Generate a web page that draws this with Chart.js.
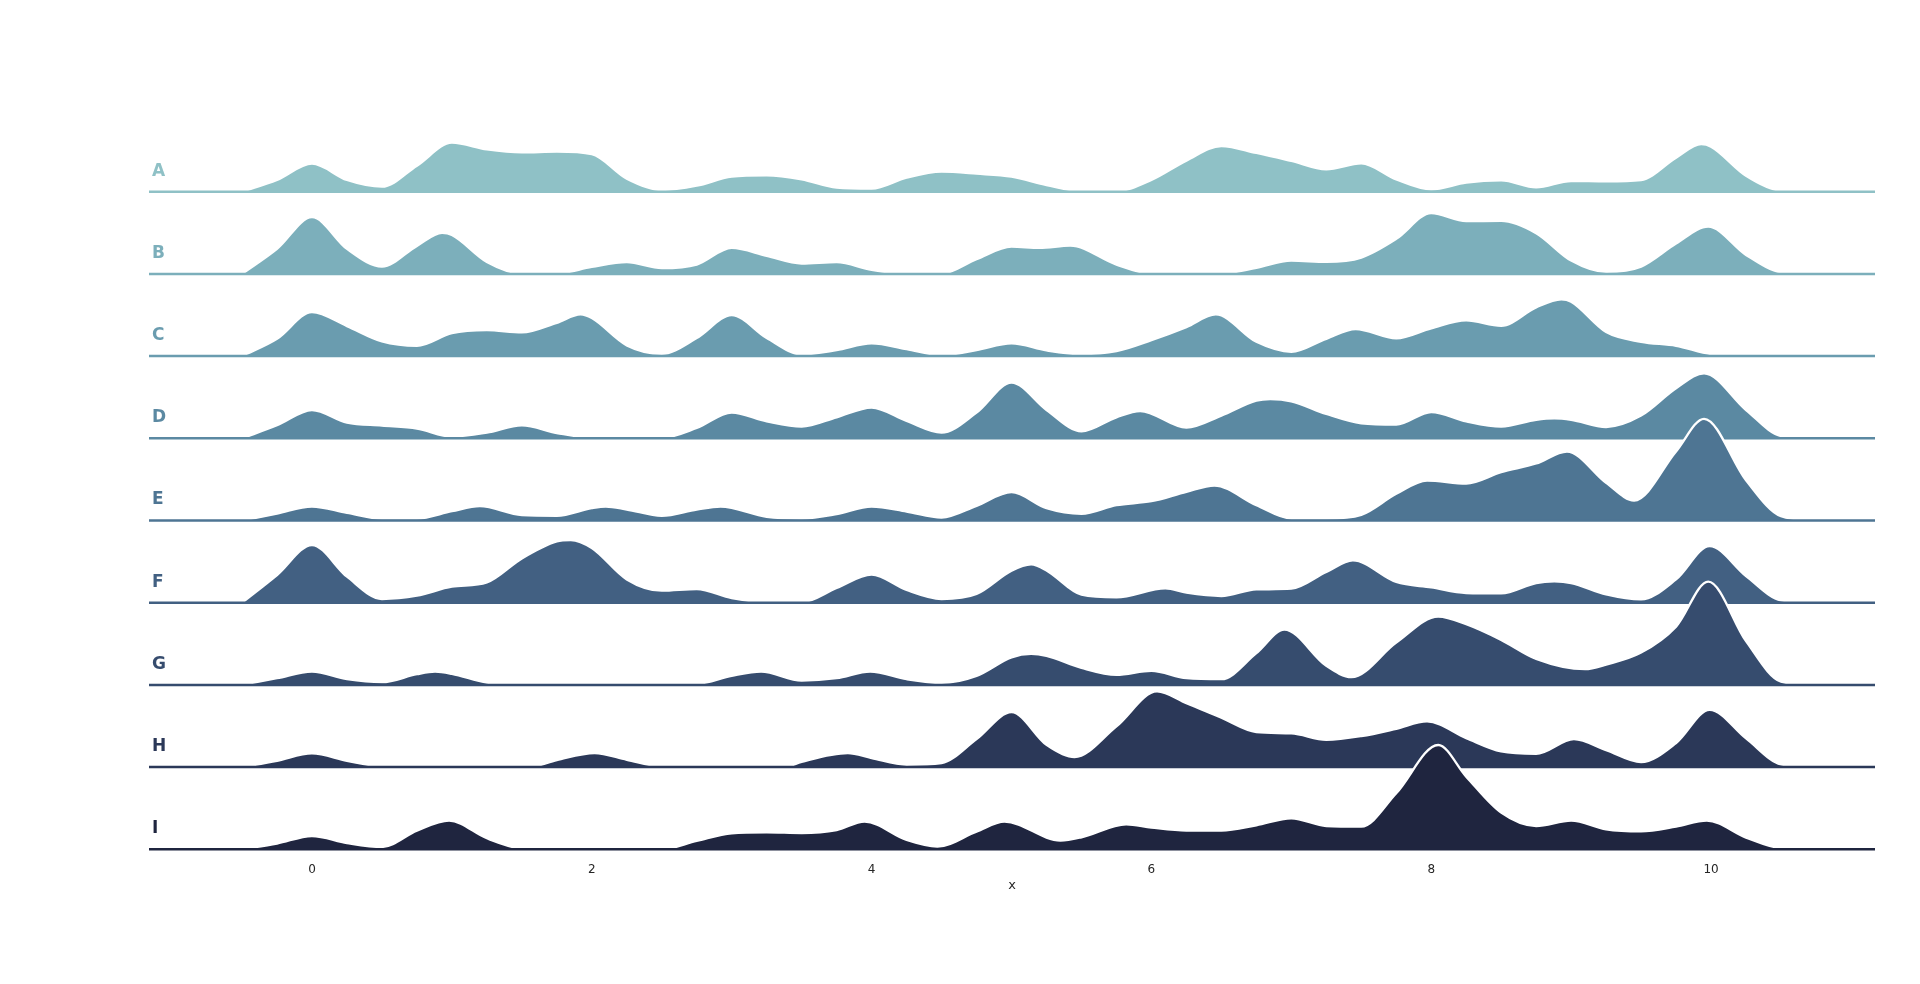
<!DOCTYPE html>
<html>
<head>
<meta charset="utf-8">
<script src="https://cdn.jsdelivr.net/npm/chart.js@4.4.1/dist/chart.umd.min.js"></script>
<style>
html,body{margin:0;padding:0;background:#fff;}
canvas{display:block;}
</style>
</head>
<body>
<canvas id="c" width="1920" height="984" style="width:1920px;height:984px"></canvas>
<script>
// ---- data (density values; x in data units) ----
const ROW_LABELS = ['A','B','C','D','E','F','G','H','I'];
const X_TICKS = [0, 2, 4, 6, 8, 10];
const X_TITLE = 'x';

const ridgeA = [[-0.5,0],[-0.25,0.117],[0,0.28],[0.25,0.117],[0.5,0.05],[0.75,0.26],[1,0.49],[1.25,0.423],[1.5,0.393],[1.75,0.40],[2,0.375],[2.25,0.13],[2.5,0.017],[2.75,0.06],[3,0.15],[3.25,0.163],[3.5,0.123],[3.75,0.04],[4,0.03],[4.25,0.14],[4.5,0.20],[4.75,0.18],[5,0.15],[5.25,0.067],[5.5,0.005],[5.75,0.005],[6,0.117],[6.25,0.31],[6.5,0.457],[6.75,0.387],[7,0.307],[7.25,0.223],[7.5,0.283],[7.75,0.123],[8,0.023],[8.25,0.09],[8.5,0.113],[8.75,0.043],[9,0.107],[9.25,0.103],[9.5,0.117],[9.75,0.34],[9.93,0.475],[10,0.45],[10.25,0.16],[10.5,0.01],[10.75,0]];
const ridgeB = [[-0.5,0],[-0.25,0.25],[0,0.567],[0.25,0.25],[0.5,0.073],[0.75,0.28],[0.93,0.41],[1,0.39],[1.25,0.12],[1.5,0.005],[1.75,0.005],[2,0.07],[2.25,0.117],[2.5,0.057],[2.75,0.093],[3,0.26],[3.25,0.18],[3.5,0.103],[3.75,0.117],[4,0.04],[4.25,0.003],[4.5,0.003],[4.75,0.147],[5,0.273],[5.2,0.26],[5.42,0.283],[5.75,0.093],[6,0.003],[6.25,0.003],[6.5,0.003],[6.75,0.06],[7,0.133],[7.25,0.12],[7.5,0.163],[7.75,0.35],[8,0.607],[8.25,0.527],[8.5,0.53],[8.75,0.407],[9,0.133],[9.25,0.02],[9.5,0.073],[9.75,0.303],[9.98,0.473],[10.25,0.19],[10.5,0.017],[10.75,0]];
const ridgeC = [[-0.5,0],[-0.25,0.173],[0,0.44],[0.25,0.30],[0.5,0.147],[0.75,0.103],[1,0.23],[1.25,0.26],[1.5,0.237],[1.75,0.333],[1.92,0.417],[2,0.38],[2.25,0.107],[2.5,0.023],[2.75,0.18],[3,0.41],[3.25,0.18],[3.5,0.017],[3.75,0.06],[4,0.127],[4.25,0.07],[4.5,0.01],[4.75,0.06],[5,0.127],[5.25,0.057],[5.5,0.02],[5.75,0.05],[6,0.16],[6.25,0.29],[6.46,0.417],[6.75,0.143],[7,0.043],[7.25,0.173],[7.46,0.27],[7.75,0.177],[8,0.277],[8.25,0.357],[8.5,0.303],[8.75,0.487],[8.93,0.567],[9,0.543],[9.25,0.24],[9.5,0.143],[9.75,0.103],[10,0.02],[10.25,0.005],[10.5,0]];
const ridgeD = [[-0.5,0],[-0.25,0.13],[0,0.283],[0.25,0.157],[0.5,0.127],[0.75,0.097],[1,0.017],[1.25,0.057],[1.5,0.13],[1.75,0.053],[2,0.005],[2.25,0.005],[2.5,0.005],[2.75,0.103],[3,0.257],[3.25,0.17],[3.5,0.117],[3.75,0.21],[4,0.307],[4.25,0.173],[4.5,0.057],[4.75,0.257],[5,0.557],[5.25,0.283],[5.5,0.07],[5.75,0.21],[5.92,0.273],[6.25,0.107],[6.5,0.227],[6.75,0.377],[6.85,0.393],[7,0.37],[7.25,0.243],[7.5,0.15],[7.75,0.137],[8,0.263],[8.25,0.17],[8.5,0.117],[8.75,0.185],[8.88,0.20],[9,0.185],[9.25,0.113],[9.5,0.227],[9.75,0.50],[9.95,0.65],[10.25,0.283],[10.5,0.023],[10.75,0]];
const ridgeE = [[-0.5,0],[-0.25,0.07],[0,0.14],[0.25,0.077],[0.5,0.02],[0.75,0.02],[1,0.093],[1.2,0.143],[1.5,0.053],[1.75,0.047],[2,0.123],[2.1,0.14],[2.25,0.11],[2.5,0.047],[2.75,0.11],[2.92,0.14],[3.25,0.037],[3.5,0.02],[3.75,0.063],[4,0.14],[4.25,0.09],[4.5,0.03],[4.75,0.147],[5,0.283],[5.25,0.123],[5.5,0.067],[5.75,0.153],[6,0.193],[6.25,0.287],[6.45,0.35],[6.75,0.153],[7,0.02],[7.25,0.02],[7.5,0.057],[7.75,0.267],[7.97,0.40],[8.25,0.37],[8.5,0.483],[8.75,0.57],[8.97,0.69],[9.25,0.377],[9.45,0.20],[9.75,0.69],[9.95,1.017],[10.25,0.403],[10.5,0.043],[10.75,0]];
const ridgeF = [[-0.5,0],[-0.25,0.277],[0,0.577],[0.25,0.26],[0.5,0.037],[0.75,0.07],[1,0.16],[1.25,0.203],[1.5,0.443],[1.75,0.613],[1.85,0.627],[2,0.547],[2.25,0.233],[2.5,0.12],[2.75,0.137],[3,0.047],[3.25,0.005],[3.5,0.005],[3.75,0.147],[4,0.28],[4.25,0.127],[4.5,0.037],[4.75,0.087],[5,0.32],[5.14,0.383],[5.25,0.323],[5.5,0.08],[5.75,0.053],[6.1,0.143],[6.25,0.10],[6.5,0.067],[6.75,0.133],[7,0.14],[7.25,0.307],[7.44,0.423],[7.75,0.207],[8,0.153],[8.25,0.097],[8.5,0.093],[8.75,0.197],[8.88,0.213],[9,0.197],[9.25,0.083],[9.5,0.033],[9.75,0.233],[9.99,0.567],[10.25,0.267],[10.5,0.023],[10.75,0]];
const ridgeG = [[-0.5,0],[-0.25,0.067],[0,0.133],[0.25,0.057],[0.5,0.027],[0.75,0.107],[0.88,0.133],[1,0.11],[1.25,0.023],[1.5,0.003],[2.75,0.01],[3,0.09],[3.21,0.133],[3.5,0.043],[3.75,0.067],[3.99,0.133],[4.25,0.057],[4.5,0.02],[4.75,0.09],[5,0.275],[5.14,0.31],[5.25,0.29],[5.5,0.17],[5.75,0.10],[6,0.14],[6.25,0.067],[6.5,0.057],[6.75,0.317],[6.95,0.553],[7.25,0.19],[7.43,0.077],[7.75,0.423],[8.05,0.683],[8.25,0.607],[8.5,0.45],[8.75,0.26],[9.1,0.157],[9.25,0.203],[9.5,0.323],[9.75,0.583],[9.98,1.033],[10.25,0.438],[10.5,0.033],[10.75,0]];
const ridgeH = [[-0.5,0],[-0.25,0.063],[0,0.137],[0.25,0.063],[0.5,0.005],[0.75,0],[1.55,0],[1.75,0.07],[2.02,0.14],[2.25,0.073],[2.5,0.005],[2.75,0],[3.38,0],[3.5,0.053],[3.83,0.14],[4,0.09],[4.25,0.023],[4.5,0.04],[4.75,0.28],[5,0.55],[5.25,0.223],[5.45,0.10],[5.75,0.407],[6.04,0.757],[6.25,0.64],[6.5,0.493],[6.75,0.35],[7,0.337],[7.25,0.273],[7.5,0.31],[7.75,0.383],[7.97,0.457],[8.25,0.29],[8.5,0.157],[8.75,0.133],[9.02,0.28],[9.25,0.17],[9.5,0.05],[9.75,0.24],[9.99,0.573],[10.25,0.287],[10.5,0.027],[10.75,0]];
const ridgeI = [[-0.5,0],[-0.25,0.057],[0,0.133],[0.25,0.063],[0.5,0.023],[0.75,0.187],[0.98,0.287],[1.25,0.11],[1.5,0.005],[1.6,0],[2.5,0],[2.75,0.083],[3,0.16],[3.25,0.17],[3.5,0.163],[3.75,0.193],[3.95,0.277],[4.25,0.093],[4.47,0.027],[4.75,0.177],[4.95,0.277],[5.35,0.087],[5.5,0.12],[5.82,0.25],[6,0.217],[6.25,0.187],[6.5,0.187],[6.75,0.24],[7,0.31],[7.25,0.233],[7.5,0.227],[7.75,0.56],[8.05,1.043],[8.25,0.727],[8.5,0.367],[8.75,0.233],[9,0.287],[9.25,0.20],[9.5,0.18],[9.75,0.227],[9.97,0.287],[10.25,0.117],[10.5,0.01],[10.75,0]];

// ---- styling / layout ----
const COLORS = ['rgb(143,193,198)','rgb(124,175,187)','rgb(106,156,175)','rgb(91,137,162)','rgb(78,117,147)','rgb(66,96,130)','rgb(54,76,110)','rgb(43,56,88)','rgb(31,37,63)'];
const ROWS = [ridgeA, ridgeB, ridgeC, ridgeD, ridgeE, ridgeF, ridgeG, ridgeH, ridgeI];
const ROW_GAP = 0.822;       // vertical distance between ridge baselines (y units)
const LABEL_RAISE = 0.205;   // label height above its baseline (y units)
const X_MIN = -1.165, X_MAX = 11.172;
const Y_MIN = -0.027, Y_MAX = 7.493;
const TEXT = '#262626';

Chart.defaults.font.family = "'DejaVu Sans', sans-serif";

const n = ROWS.length;
const baseOf = i => (n - 1 - i) * ROW_GAP;
const datasets = [];
ROWS.forEach((pts, i) => {
  const base = baseOf(i);
  datasets.push({
    label: ROW_LABELS[i],
    data: pts.map(([x, d]) => ({x: x, y: base + d})),
    fill: {value: base},
    backgroundColor: COLORS[i],
    borderColor: '#ffffff',
    borderWidth: 2.3,
    pointRadius: 0,
    cubicInterpolationMode: 'monotone',
    order: 100 - 2 * i,
    clip: false
  });
  datasets.push({
    label: ROW_LABELS[i] + ' base',
    data: [{x: X_MIN, y: base}, {x: X_MAX, y: base}],
    fill: false,
    borderColor: COLORS[i],
    borderWidth: 2.5,
    pointRadius: 0,
    order: 99 - 2 * i,
    clip: false
  });
});

const labelValues = ROW_LABELS.map((l, i) => baseOf(i) + LABEL_RAISE);

new Chart(document.getElementById('c'), {
  type: 'line',
  data: {datasets: datasets},
  options: {
    responsive: false,
    devicePixelRatio: 1,
    animation: false,
    layout: {padding: {left: 149, right: 45, top: 100, bottom: 88}},
    plugins: {legend: {display: false}, tooltip: {enabled: false}},
    scales: {
      x: {
        type: 'linear',
        min: X_MIN, max: X_MAX,
        bounds: 'data',
        grid: {display: false, drawTicks: false},
        border: {display: false},
        afterBuildTicks: s => { s.ticks = X_TICKS.map(v => ({value: v})); },
        afterFit: s => { s.height = 44; },
        ticks: {
          autoSkip: false,
          maxRotation: 0,
          padding: 11,
          color: TEXT,
          font: {size: 12},
          callback: v => String(v)
        },
        title: {display: true, text: X_TITLE, color: TEXT, font: {size: 13}, padding: {top: 0, bottom: 3}}
      },
      y: {
        type: 'linear',
        position: 'left',
        min: Y_MIN, max: Y_MAX,
        bounds: 'data',
        grid: {display: false, drawTicks: false},
        border: {display: false},
        afterBuildTicks: s => { s.ticks = labelValues.map(v => ({value: v})); },
        afterFit: s => { s.width = 0; },
        ticks: {
          mirror: true,
          autoSkip: false,
          padding: 3,
          font: {size: 17, weight: 'bold'},
          color: ctx => COLORS[ctx.index],
          callback: (v, idx) => ROW_LABELS[idx]
        }
      }
    }
  }
});
</script>
</body>
</html>
